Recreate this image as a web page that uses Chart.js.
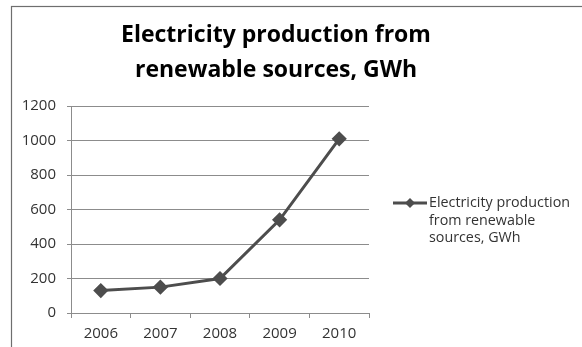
<!DOCTYPE html>
<html>
<head>
<meta charset="utf-8">
<script src="https://cdn.jsdelivr.net/npm/chart.js@4/dist/chart.umd.min.js"></script>
<style>
  html, body { margin: 0; padding: 0; background: #fff; }
  #wrap { width: 582px; height: 347px; position: relative; }
</style>
</head>
<body>
<div id="wrap"><canvas id="c" width="582" height="347"></canvas></div>
<script>
// Annual figures
const years = ['2006', '2007', '2008', '2009', '2010'];
const production = [130, 150, 200, 540, 1010];
const titleLines = ['Electricity production from', 'renewable sources, GWh'];
const seriesName = 'Electricity production from renewable sources, GWh';
const legendLines = ['Electricity production', 'from renewable', 'sources, GWh'];
const yMin = 0, yMax = 1200, yStep = 200;

const FONT = '"Open Sans", "Noto Sans", sans-serif';
const LINE = '#4d4d4d';
const GRID = '#8c8c8c';
const TEXT = '#333333';

// Frame, title and side legend drawn on the canvas
const decor = {
  id: 'decor',
  beforeDraw(chart) {
    const ctx = chart.ctx;
    ctx.save();
    ctx.fillStyle = '#fff';
    ctx.fillRect(0, 0, chart.width, chart.height);
    ctx.strokeStyle = '#6e6e6e';
    ctx.lineWidth = 1.2;
    ctx.strokeRect(11.5, 6.5, 800, 600);
    ctx.restore();
  },
  afterDraw(chart) {
    const ctx = chart.ctx;
    ctx.save();
    // title
    ctx.fillStyle = '#000';
    ctx.font = 'bold 23px ' + FONT;
    ctx.textAlign = 'center';
    ctx.textBaseline = 'alphabetic';
    titleLines.forEach((t, i) => ctx.fillText(t, 276, 42 + i * 35));
    // legend
    const ly = 203;
    ctx.strokeStyle = LINE;
    ctx.lineWidth = 3;
    ctx.beginPath();
    ctx.moveTo(393, ly);
    ctx.lineTo(427, ly);
    ctx.stroke();
    ctx.fillStyle = LINE;
    ctx.beginPath();
    ctx.moveTo(410, ly - 5);
    ctx.lineTo(415, ly);
    ctx.lineTo(410, ly + 5);
    ctx.lineTo(405, ly);
    ctx.closePath();
    ctx.fill();
    ctx.fillStyle = TEXT;
    ctx.font = '14.3px ' + FONT;
    ctx.textAlign = 'left';
    ctx.textBaseline = 'middle';
    legendLines.forEach((t, i) => ctx.fillText(t, 429, ly + i * 17.5));
    ctx.restore();
  }
};

new Chart(document.getElementById('c'), {
  type: 'line',
  data: {
    labels: years,
    datasets: [{
      label: seriesName,
      data: production,
      borderColor: LINE,
      backgroundColor: LINE,
      borderWidth: 3,
      pointStyle: 'rectRot',
      pointRadius: 5.5,
      pointHoverRadius: 5.5,
      tension: 0
    }]
  },
  options: {
    responsive: false,
    animation: false,
    events: [],
    layout: { padding: { left: 0, top: 106, right: 213, bottom: 0 } },
    plugins: { legend: { display: false }, title: { display: false }, tooltip: { enabled: false } },
    scales: {
      x: {
        offset: true,
        afterFit(s) { s.height = 34; },
        grid: { offset: true, drawOnChartArea: false, drawTicks: true, tickLength: 5, color: GRID },
        border: { color: GRID, width: 1 },
        ticks: { color: TEXT, font: { family: FONT, size: 15 }, padding: 7, maxRotation: 0 }
      },
      y: {
        min: yMin, max: yMax,
        afterFit(s) { s.width = 71; },
        grid: { color: GRID, tickLength: 4, lineWidth: 1 },
        border: { color: GRID, width: 1 },
        ticks: {
          stepSize: yStep, color: TEXT, font: { family: FONT, size: 15 }, padding: 11,
          callback: v => String(v)
        }
      }
    }
  },
  plugins: [decor]
});
</script>
</body>
</html>
